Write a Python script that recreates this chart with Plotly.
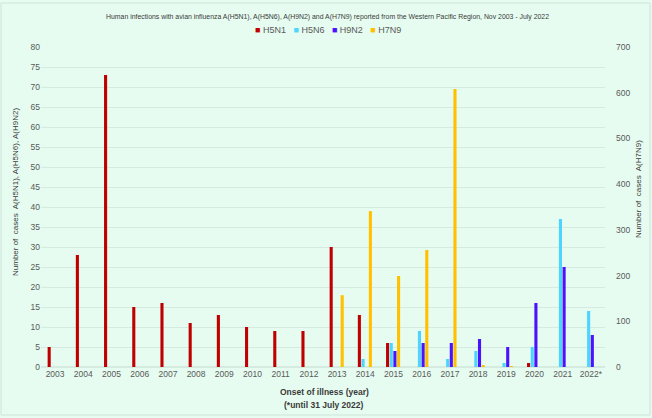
import plotly.graph_objects as go

years = ["2003", "2004", "2005", "2006", "2007", "2008", "2009", "2010", "2011", "2012",
         "2013", "2014", "2015", "2016", "2017", "2018", "2019", "2020", "2021", "2022*"]
h5n1 = [5, 28, 73, 15, 16, 11, 13, 10, 9, 9, 30, 13, 6, 0, 0, 0, 0, 1, 0, 0]
h5n6 = [0, 0, 0, 0, 0, 0, 0, 0, 0, 0, 0, 2, 6, 9, 2, 4, 1, 5, 37, 14]
h9n2 = [0, 0, 0, 0, 0, 0, 0, 0, 0, 0, 0, 0, 4, 6, 6, 7, 5, 16, 25, 8]
h7n9 = [0, 0, 0, 0, 0, 0, 0, 0, 0, 0, 157, 341, 199, 256, 608, 3, 1, 0, 0, 0]

names = ["H5N1", "H5N6", "H9N2", "H7N9"]
colors = ["#C00000", "#4DD5FF", "#4A12FF", "#FFC000"]
offsets = [-0.265, -0.135, -0.005, 0.125]
bw = 0.11

FONT = "Liberation Sans"
GRAY = "#595959"
DARK = "#3A3A3A"

W, H = 652, 418
L, R, T, B = 41, 47, 47, 51
PW, PH = W - L - R, H - T - B


def px_x(x):
    return (x - L) / PW


def px_y(y):
    return (H - B - y) / PH


fig = go.Figure()
series = [h5n1, h5n6, h9n2, h7n9]
for i, (nm, vals) in enumerate(zip(names, series)):
    fig.add_trace(go.Bar(
        x=years, y=vals, name=nm,
        marker=dict(color=colors[i], line=dict(width=0)),
        width=bw, offset=offsets[i],
        yaxis="y2" if nm == "H7N9" else "y",
        showlegend=False,
    ))

legend_text = "   ".join(
    f"<span style='color:{c}'>■</span> {n}" for n, c in zip(names, colors)
)

fig.update_layout(
    width=W, height=H,
    margin=dict(l=L, r=R, t=T, b=B, autoexpand=False),
    paper_bgcolor="#E6FCF0",
    plot_bgcolor="#E6FCF0",
    barmode="overlay",
    font=dict(family=FONT, color=GRAY, size=9),
    xaxis=dict(
        type="category", range=[-0.5, 19.5], automargin=False,
        showgrid=False, showline=False, ticks="",
        tickfont=dict(size=8.5, color=GRAY),
    ),
    yaxis=dict(
        range=[0, 80], dtick=5, showgrid=True, gridcolor="#D6EBDF", gridwidth=1,
        zeroline=True, zerolinecolor="#D6EBDF", showline=False, automargin=False,
        tickfont=dict(size=8.5, color=GRAY), ticks="",
    ),
    yaxis2=dict(
        range=[0, 700], dtick=100, overlaying="y", side="right", showgrid=False,
        zeroline=False, showline=False, automargin=False,
        tickfont=dict(size=8.5, color=GRAY), ticks="", ticklabelstandoff=10,
    ),
    annotations=[
        dict(text="Human infections with avian influenza A(H5N1), A(H5N6), A(H9N2) and A(H7N9) reported from the Western Pacific Region, Nov 2003 - July 2022",
             x=px_x(327), y=px_y(17), xref="paper", yref="paper", showarrow=False,
             xanchor="center", yanchor="middle", font=dict(size=6.9, color=DARK)),
        dict(text=legend_text, x=px_x(328), y=px_y(30), xref="paper", yref="paper",
             showarrow=False, xanchor="center", yanchor="middle",
             font=dict(size=9, color=GRAY)),
        dict(text="Number of  cases  A(H5N1), A(H5N6), A(H9N2)", textangle=-90,
             x=px_x(15), y=px_y(192), xref="paper", yref="paper", showarrow=False,
             xanchor="center", yanchor="middle", font=dict(size=8, color=DARK)),
        dict(text="Number of  cases  A(H7N9)", textangle=-90,
             x=px_x(638), y=px_y(189), xref="paper", yref="paper", showarrow=False,
             xanchor="center", yanchor="middle", font=dict(size=8, color=DARK)),
        dict(text="<b>Onset of illness (year)</b>", x=px_x(324), y=px_y(392),
             xref="paper", yref="paper", showarrow=False, xanchor="center", yanchor="middle",
             font=dict(size=8.5, color=DARK)),
        dict(text="<b>(*until 31 July 2022)</b>", x=px_x(324), y=px_y(405),
             xref="paper", yref="paper", showarrow=False, xanchor="center", yanchor="middle",
             font=dict(size=8.5, color=DARK)),
    ],
    shapes=[
        dict(type="rect", xref="paper", yref="paper",
             x0=px_x(1), x1=px_x(650), y0=px_y(415), y1=px_y(3),
             line=dict(color="#D0E4DA", width=1), fillcolor="rgba(0,0,0,0)", layer="below"),
    ],
)

fig.write_html(
    "out.html",
    config={"displayModeBar": False},
    post_script="document.body.style.margin='0';document.body.style.overflow='hidden';",
)
